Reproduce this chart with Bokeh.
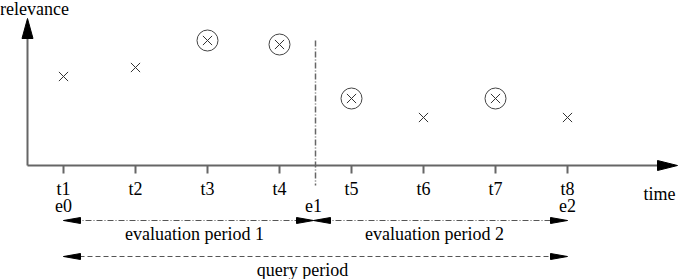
from bokeh.plotting import figure
from bokeh.models import Range1d
from bokeh.core.properties import value
from bokeh.embed import file_html
from bokeh.resources import INLINE

# ---- data ----
time_labels = ["t1", "t2", "t3", "t4", "t5", "t6", "t7", "t8"]
time_pos = [1, 2, 3, 4, 5, 6, 7, 8]
relevance = [8.9, 9.8, 12.5, 12.1, 6.7, 4.8, 6.7, 4.8]
selected = [False, False, True, True, True, False, True, False]
eval_labels = ["e0", "e1", "e2"]
eval_pos = [1, 4.5, 8]
period_labels = ["evaluation period 1", "evaluation period 2"]
query_label = "query period"

# ---- layout (pixel scale) ----
W, H = 681, 279
PX_X0, PX_DX = 63, 72       # pixel of t1, pixels per time step
PX_Y0, PX_DY = 165, 10      # pixel row of relevance 0, pixels per unit
sx, sy = PX_DX, PX_DY

def dx(px):
    return px / sx

def dy(px):
    return px / sy

x_start = 1 - PX_X0 / sx
x_end = x_start + W / sx
y_end = PX_Y0 / sy
y_start = y_end - H / sy

p = figure(width=W, height=H, output_backend="svg", toolbar_location=None,
           x_range=Range1d(x_start, x_end), y_range=Range1d(y_start, y_end),
           min_border=0, min_border_left=0, min_border_right=0,
           min_border_top=0, min_border_bottom=0)
p.axis.visible = False
p.grid.visible = False
p.outline_line_color = None
p.background_fill_color = "white"

FS = "18px"
AX = "#666666"

def txt(xs, ys, labels):
    p.text(x=xs, y=ys, text=labels, text_font=value("Liberation Serif"), text_font_size=FS,
           text_align="center", text_baseline="middle", text_color="black")

# axes
x_axis_x = x_start + dx(27)
p.segment(x0=[x_axis_x], y0=[0], x1=[x_end - dx(10)], y1=[0], line_color=AX, line_width=2)
p.segment(x0=[x_axis_x], y0=[0], x1=[x_axis_x], y1=[y_end - dy(30)], line_color=AX, line_width=2)
# arrow heads of axes
ytip = y_end - dy(18)
p.patch(x=[x_axis_x, x_axis_x - dx(5.5), x_axis_x + dx(5.5)],
        y=[ytip, ytip - dy(20), ytip - dy(20)], color="black")
xtip = x_end - dx(4)
p.patch(x=[xtip, xtip - dx(20), xtip - dx(20)], y=[0, dy(5), -dy(5)], color="black")

# ticks
p.segment(x0=time_pos, y0=[0] * 8, x1=time_pos, y1=[-dy(8)] * 8, line_color=AX, line_width=2)
txt(time_pos, [-dy(23)] * 8, time_labels)
txt([eval_pos[0], eval_pos[1] - dx(2), eval_pos[2]], [-dy(40)] * 3, eval_labels)

# axis titles
txt([x_start + dx(34)], [y_end - dy(8)], ["relevance"])
txt([x_start + dx(659)], [-dy(28)], ["time"])

# evaluation boundary
p.segment(x0=[eval_pos[1]], y0=[y_end - dy(40)], x1=[eval_pos[1]], y1=[-dy(20)],
          line_color=AX, line_width=1.5, line_dash="6 2 1 2")

# points
p.scatter(x=time_pos, y=relevance, marker="x", size=13, line_color="#333333", line_width=1)
sel_x = [t for t, s in zip(time_pos, selected) if s]
sel_y = [r for r, s in zip(relevance, selected) if s]
p.scatter(x=sel_x, y=sel_y, marker="circle", size=21, fill_color=None,
          line_color="#444444", line_width=1)

# period arrows
def h_arrow(x0, x1, y, dash, left=True, right=True):
    p.segment(x0=[x0], y0=[y], x1=[x1], y1=[y], line_color="#555555", line_width=1,
              line_dash=dash)
    L, Wd = dx(17), dy(3)
    if left:
        p.patch(x=[x0, x0 + L, x0 + L], y=[y, y + Wd, y - Wd], color="black")
    if right:
        p.patch(x=[x1, x1 - L, x1 - L], y=[y, y + Wd, y - Wd], color="black")

y_eval = -dy(55)
y_query = -dy(91)
h_arrow(eval_pos[0], eval_pos[1] - dx(2), y_eval, "6 2 1 2")
h_arrow(eval_pos[1] - dx(2), eval_pos[2], y_eval, "6 2 1 2")
h_arrow(eval_pos[0], eval_pos[2], y_query, "5 3")

txt([x_start + dx(194), x_start + dx(434)], [-dy(68)] * 2, period_labels)
txt([x_start + dx(302)], [-dy(104)], [query_label])

open("out.html", "w").write(file_html(p, INLINE))
